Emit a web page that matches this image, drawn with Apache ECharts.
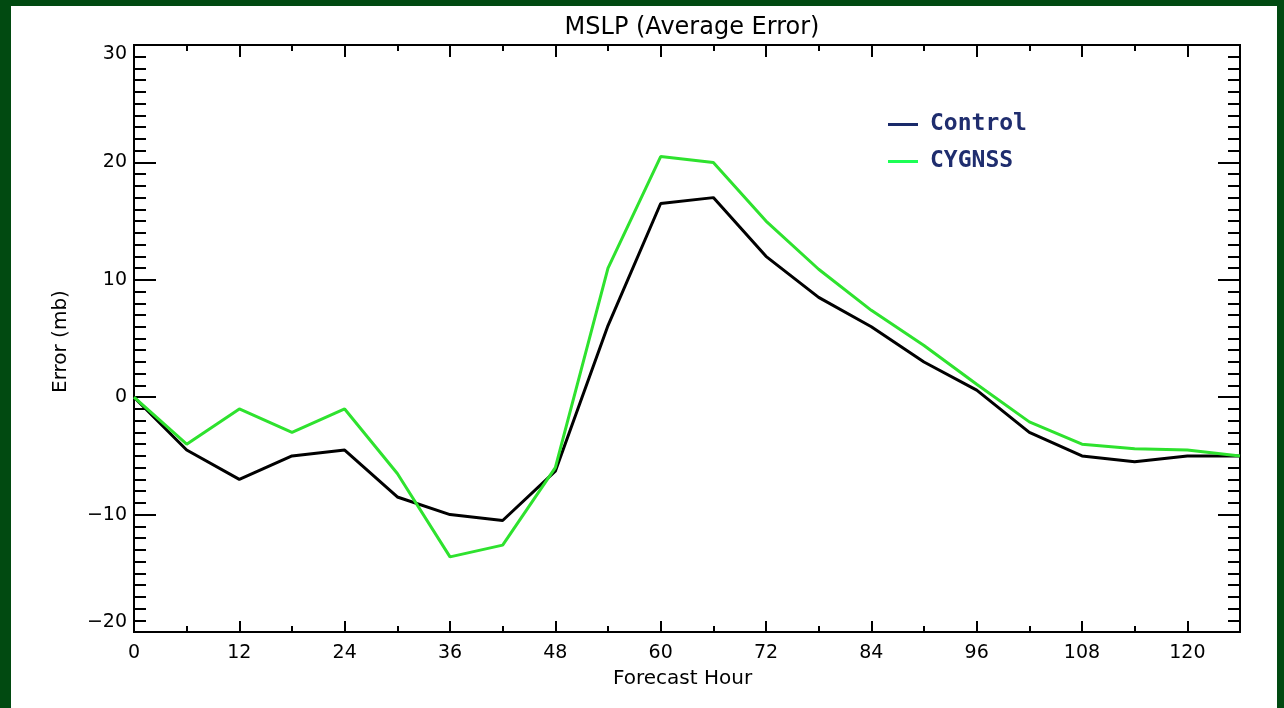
<!DOCTYPE html>
<html>
<head>
<meta charset="utf-8">
<script src="https://cdn.jsdelivr.net/npm/echarts@6/dist/echarts.min.js"></script>
<style>
html,body{margin:0;padding:0;background:#fff;}
#chart{width:1284px;height:708px;}
</style>
</head>
<body>
<div id="chart"></div>
<script>
var hours = [0,6,12,18,24,30,36,42,48,54,60,66,72,78,84,90,96,102,108,114,120,126];
var control = [0,-4.5,-7,-5,-4.5,-8.5,-10,-10.5,-6.3,6.1,16.5,17,12,8.5,6,3,0.6,-3,-5,-5.5,-5,-5];
var cygnss = [0,-4,-1,-3,-1,-6.5,-13.6,-12.6,-6,11,20.5,20,15,10.9,7.4,4.4,1.1,-2.1,-4,-4.4,-4.5,-5];
var seriesNames = ['Control','CYGNSS'];
var titleText = 'MSLP (Average Error)';
var xName = 'Forecast Hour';
var yName = 'Error (mb)';

var FONT = 'DejaVu Sans';
var chart = echarts.init(document.getElementById('chart'));

function xAx(pos, interval, len, labels) {
  return {
    type: 'value', position: pos, min: 0, max: 126, interval: interval,
    axisLine: {show: true, onZero: false, lineStyle: {color: '#000', width: 2}},
    axisTick: {show: true, inside: true, length: len, lineStyle: {color: '#000', width: 2}},
    splitLine: {show: false},
    axisLabel: labels ? {
      show: true, color: '#000', fontFamily: FONT, fontSize: 19, margin: 12,
      formatter: function (v) { return v % 12 === 0 ? String(v) : ''; }
    } : {show: false}
  };
}
function yAx(pos, labels) {
  return {
    type: 'value', position: pos, min: -20, max: 30, interval: 10,
    axisLine: {show: true, onZero: false, lineStyle: {color: '#000', width: 2}},
    axisTick: {show: true, inside: true, length: 22, lineStyle: {color: '#000', width: 2}},
    minorTick: {show: true, splitNumber: 10, length: 12, lineStyle: {color: '#000', width: 2}},
    splitLine: {show: false}, minorSplitLine: {show: false},
    axisLabel: labels ? {
      show: true, color: '#000', fontFamily: FONT, fontSize: 19, margin: 7,
      verticalAlignMaxLabel: 'top', verticalAlignMinLabel: 'bottom',
      formatter: function (v) { return String(v).replace('-', '\u2212'); }
    } : {show: false}
  };
}

chart.setOption({
  backgroundColor: '#fff',
  animation: false,
  title: {
    text: titleText, left: 687, top: 11, textAlign: 'center',
    textStyle: {fontFamily: FONT, fontSize: 24, fontWeight: 'normal', color: '#000'}
  },
  grid: {left: 134, right: 44, top: 45, bottom: 76, containLabel: false},
  xAxis: [xAx('bottom', 12, 11, true), xAx('bottom', 6, 6, false), xAx('top', 12, 12, false), xAx('top', 6, 6, false)],
  yAxis: [yAx('left', true), yAx('right', false)],
  legend: {
    orient: 'vertical', left: 883, top: 108, itemGap: 14,
    icon: 'rect', itemWidth: 30, itemHeight: 3,
    textStyle: {fontFamily: 'DejaVu Sans Mono', fontWeight: 'bold', fontSize: 23, color: '#1f2d6e', padding: [0,0,0,7]},
    data: [
      {name: seriesNames[0], itemStyle: {color: '#1a2a6a'}},
      {name: seriesNames[1], itemStyle: {color: '#1cff55'}}
    ]
  },
  graphic: [
    {type: 'text', left: 613, top: 669, style: {text: xName, font: '20px "DejaVu Sans"', fill: '#000'}},
    {type: 'text', x: 51, y: 393, rotation: Math.PI / 2,
      style: {text: yName, font: '20px "DejaVu Sans"', fill: '#000', textAlign: 'left', textVerticalAlign: 'top'}},
    {type: 'rect', shape: {x: 0, y: 0, width: 11, height: 708}, style: {fill: '#014a11'}},
    {type: 'rect', shape: {x: 0, y: 0, width: 1284, height: 6}, style: {fill: '#014a11'}},
    {type: 'rect', shape: {x: 1277, y: 0, width: 7, height: 708}, style: {fill: '#014a11'}}
  ],
  series: [
    {name: seriesNames[0], type: 'line', xAxisIndex: 0, yAxisIndex: 0, symbol: 'none',
      data: hours.map(function (h, i) { return [h, control[i]]; }),
      lineStyle: {color: '#000', width: 3}, itemStyle: {color: '#000'}},
    {name: seriesNames[1], type: 'line', xAxisIndex: 0, yAxisIndex: 0, symbol: 'none',
      data: hours.map(function (h, i) { return [h, cygnss[i]]; }),
      lineStyle: {color: '#2ee22e', width: 3}, itemStyle: {color: '#2ee22e'}}
  ]
});
</script>
</body>
</html>
